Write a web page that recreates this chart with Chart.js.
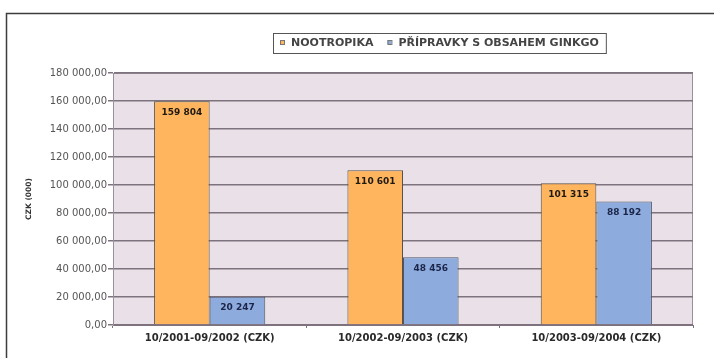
<!DOCTYPE html>
<html>
<head>
<meta charset="utf-8">
<script src="https://cdn.jsdelivr.net/npm/chart.js@4"></script>
<style>
  body { margin: 0; background: #fff; }
  canvas { display: block; }
</style>
</head>
<body>
<canvas id="c" width="714" height="358"></canvas>
<script>
// data
const categories = ["10/2001-09/2002 (CZK)", "10/2002-09/2003 (CZK)", "10/2003-09/2004 (CZK)"];
const seriesNames = ["NOOTROPIKA", "PŘÍPRAVKY S OBSAHEM GINKGO"];
const nootropika = [159804, 110601, 101315];
const ginkgo = [20247, 48456, 88192];
const yMax = 180000;
const yStep = 20000;
const yTitle = "CZK (000)";

const FONT = "'DejaVu Sans', Arial, sans-serif";
const GRID = '#7d727d';

// 1 234 style numbers
function spaced(n) {
    return String(n).replace(/\B(?=(\d{3})+(?!\d))/g, ' ');
}

// background of plot + outer frame
const backdrop = {
    id: 'backdrop',
    beforeDraw(chart) {
        const { ctx, chartArea: a } = chart;
        ctx.save();
        ctx.fillStyle = '#fff';
        ctx.fillRect(0, 0, chart.width, chart.height);
        ctx.strokeStyle = '#3c3c3c';
        ctx.lineWidth = 1.5;
        ctx.strokeRect(6.5, 13.5, 760, 420);
        ctx.fillStyle = '#e9e1e7';
        ctx.fillRect(a.left, a.top, a.right - a.left, a.bottom - a.top);
        ctx.strokeStyle = '#9a909a';
        ctx.lineWidth = 1;
        ctx.strokeRect(a.left + 0.5, a.top + 0.5, a.right - a.left - 1, a.bottom - a.top);
        ctx.restore();
    }
};

// boxed legend on top
const boxLegend = {
    id: 'boxLegend',
    afterDraw(chart) {
        const ctx = chart.ctx;
        ctx.save();
        ctx.font = "bold 11px " + FONT;
        ctx.textBaseline = 'middle';
        const left = 273, top = 33, h = 20, cy = top + h / 2;
        let x = left + 7;
        chart.data.datasets.forEach((ds, i) => {
            if (i > 0) x += 14;
            ctx.fillStyle = ds.backgroundColor;
            ctx.fillRect(x, cy - 3, 4, 4);
            ctx.strokeStyle = '#777';
            ctx.lineWidth = 1;
            ctx.strokeRect(x + 0.5, cy - 2.5, 4, 4);
            x += 11;
            ctx.fillStyle = '#444';
            ctx.fillText(ds.label, x, cy);
            x += ctx.measureText(ds.label).width;
        });
        ctx.strokeStyle = '#555';
        ctx.lineWidth = 1;
        ctx.strokeRect(left + 0.5, top + 0.5, x + 7 - left, h);
        ctx.restore();
    }
};

// value labels inside bar tops
const barValues = {
    id: 'barValues',
    afterDatasetsDraw(chart) {
        const ctx = chart.ctx;
        ctx.save();
        ctx.font = "bold 9px " + FONT;
        ctx.textAlign = 'center';
        ctx.textBaseline = 'middle';
        chart.data.datasets.forEach((ds, i) => {
            chart.getDatasetMeta(i).data.forEach((bar, j) => {
                ctx.fillStyle = i === 0 ? '#1e1a12' : '#1b2548';
                ctx.fillText(spaced(ds.data[j]), bar.x, bar.y + 11);
            });
        });
        ctx.restore();
    }
};

new Chart(document.getElementById('c'), {
    type: 'bar',
    data: {
        labels: categories,
        datasets: [
            {
                label: seriesNames[0],
                data: nootropika,
                backgroundColor: '#ffb45e',
                borderColor: '#5a5046',
                borderWidth: 1
            },
            {
                label: seriesNames[1],
                data: ginkgo,
                backgroundColor: '#8eabdd',
                borderColor: '#4e5666',
                borderWidth: 1
            }
        ]
    },
    options: {
        responsive: false,
        animation: false,
        layout: { padding: { left: 18, right: 21, top: 73, bottom: 0 } },
        datasets: { bar: { categoryPercentage: 0.575, barPercentage: 1.0 } },
        plugins: {
            legend: { display: false },
            tooltip: { enabled: false }
        },
        scales: {
            x: {
                afterFit(s) { s.height = 33; },
                grid: { drawOnChartArea: false, tickLength: 3, color: GRID },
                border: { color: GRID },
                ticks: {
                    padding: 4,
                    color: '#2a2a2a',
                    font: { family: FONT, size: 10, weight: 'bold' }
                }
            },
            y: {
                min: 0,
                max: yMax,
                afterFit(s) { s.width = 95; },
                grid: { color: GRID, lineWidth: 1.5, tickLength: 5 },
                border: { color: '#9a909a' },
                ticks: {
                    stepSize: yStep,
                    padding: 1,
                    color: '#555',
                    font: { family: FONT, size: 10 },
                    callback: v => spaced(v) + ',00'
                },
                title: {
                    display: true,
                    text: yTitle,
                    color: '#333',
                    padding: { top: 7, bottom: 0 },
                    font: { family: FONT, size: 7.5, weight: 'bold' }
                }
            }
        }
    },
    plugins: [backdrop, boxLegend, barValues]
});
</script>
</body>
</html>
